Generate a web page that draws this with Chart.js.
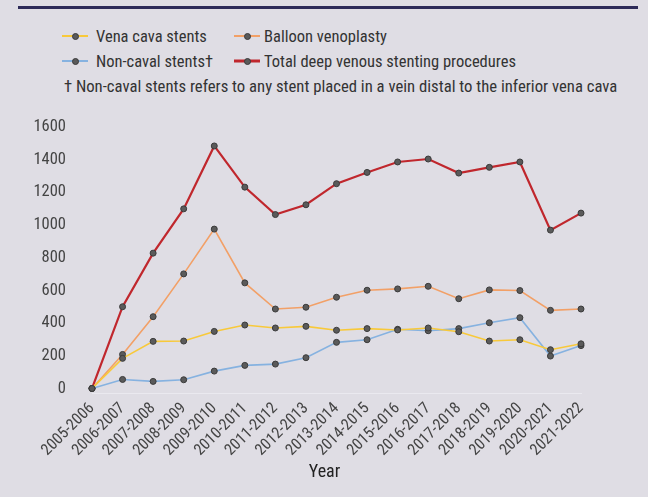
<!DOCTYPE html>
<html>
<head>
<meta charset="utf-8">
<script src="https://cdn.jsdelivr.net/npm/chart.js@4/dist/chart.umd.min.js"></script>
<style>
html,body{margin:0;padding:0;background:#dfdde4;}
#wrap{position:relative;width:648px;height:497px;overflow:hidden;font-family:"Roboto Condensed","Liberation Sans",sans-serif;color:#333;}
#rule{position:absolute;left:18px;top:6px;width:620px;height:3px;background:#2d2a58;}
.item{position:absolute;height:24px;display:flex;align-items:center;font-size:16.5px;white-space:nowrap;}
.mk{position:relative;width:26px;height:24px;flex:none;}
.mk .ln{position:absolute;left:0;right:0;top:50%;transform:translateY(-50%);}
.mk .dot{position:absolute;left:50%;top:50%;width:7px;height:7px;margin:-3.5px 0 0 -3.5px;border-radius:50%;background:#5a5a5a;border:1px solid #3a3a3a;box-sizing:border-box;}
#note{position:absolute;left:64px;top:75px;height:24px;line-height:24px;font-size:16.7px;white-space:nowrap;}
canvas{position:absolute;left:0;top:0;}
</style>
</head>
<body>
<div id="wrap">
  <div id="rule"></div>
  <div id="legend"></div>
  <div id="note"></div>
  <canvas id="c" width="648" height="497"></canvas>
</div>
<script>
const years = ['2005-2006','2006-2007','2007-2008','2008-2009','2009-2010','2010-2011','2011-2012','2012-2013','2013-2014','2014-2015','2015-2016','2016-2017','2017-2018','2018-2019','2019-2020','2020-2021','2021-2022'];
const venaCava = [0,184,288,290,349,388,370,380,356,366,358,370,347,290,298,237,273];
const balloon  = [0,208,439,701,975,646,486,497,558,601,609,625,549,603,599,478,486];
const nonCaval = [0,55,43,53,106,141,149,188,282,298,362,353,366,402,433,198,262];
const total    = [0,500,828,1099,1484,1232,1064,1124,1253,1322,1386,1404,1318,1353,1386,969,1073];
const yTicks = [0,200,400,600,800,1000,1200,1400,1600];
const seriesNames = ['Vena cava stents','Balloon venoplasty','Non-caval stents\u2020','Total deep venous stenting procedures'];
const seriesColors = ['#f8c93a','#f2a067','#86b2e0','#c0272d'];
const lineWidths = [1.6,1.6,1.6,2.2];
const footnote = '\u2020 Non-caval stents refers to any stent placed in a vein distal to the inferior vena cava';
const xTitle = 'Year';

const FONT = '"Roboto Condensed","Liberation Sans",sans-serif';
const seriesData = [venaCava, balloon, nonCaval, total];

const datasets = seriesData.map((d,i)=>({
  label: seriesNames[i],
  data: d,
  borderColor: seriesColors[i],
  backgroundColor: seriesColors[i],
  borderWidth: lineWidths[i],
  pointRadius: 3,
  pointHoverRadius: 3,
  pointBackgroundColor: '#5a5a5a',
  pointBorderColor: '#3a3a3a',
  pointBorderWidth: 1,
  tension: 0,
  fill: false
}));

// shift the x-axis title slightly left, as in the reference
const titleShift = {
  id: 'titleShift',
  afterLayout(chart) {
    const s = chart.scales.x;
    if (s && !s._shiftWrapped) {
      const orig = s.drawTitle.bind(s);
      s.drawTitle = function(area) {
        const l = this.left, r = this.right;
        this.left = l - 24;
        const res = orig(area);
        this.left = l; this.right = r;
        return res;
      };
      s._shiftWrapped = true;
    }
  }
};

const chart = new Chart(document.getElementById('c'), {
  type: 'line',
  data: { labels: years, datasets },
  plugins: [titleShift],
  options: {
    responsive: false,
    animation: false,
    devicePixelRatio: 1,
    layout: { padding: { top: 127, right: 67, left: 0, bottom: 0 } },
    plugins: { legend: { display: false }, tooltip: { enabled: false } },
    scales: {
      x: {
        grid: { display: false, drawTicks: false },
        border: { display: true, color: '#eae9ef', width: 1 },
        ticks: { autoSkip: false, minRotation: 45, maxRotation: 45, color: '#444', padding: 6,
                 font: { family: FONT, size: 16 } },
        title: { display: true, text: xTitle, color: '#222', font: { family: FONT, size: 18 },
                 padding: { top: 0, bottom: 14 } },
        afterFit: s => { s.height = 104; }
      },
      y: {
        min: -28, max: 1600,
        grid: { display: false, drawTicks: false },
        border: { display: false },
        afterBuildTicks: s => { s.ticks = yTicks.map(v => ({ value: v })); },
        ticks: { color: '#444', padding: 26, font: { family: FONT, size: 16.5 },
                 callback: v => String(v) },
        afterFit: s => { s.width = 92; }
      }
    }
  }
});

// HTML legend built from the chart's datasets
const legend = document.getElementById('legend');
const colX = [62, 234];
const colGap = [8, 4];
const rowY = [24, 49];
chart.data.datasets.forEach((ds, i) => {
  const item = document.createElement('div');
  item.className = 'item';
  item.style.left = colX[i % 2] + 'px';
  item.style.top = rowY[Math.floor(i / 2)] + 'px';
  const mk = document.createElement('span');
  mk.className = 'mk';
  mk.style.marginRight = colGap[i % 2] + 'px';
  const ln = document.createElement('span');
  ln.className = 'ln';
  ln.style.background = ds.borderColor;
  ln.style.height = (ds.borderWidth > 2 ? 3 : 2) + 'px';
  const dot = document.createElement('span');
  dot.className = 'dot';
  mk.appendChild(ln); mk.appendChild(dot);
  item.appendChild(mk);
  item.appendChild(document.createTextNode(ds.label));
  legend.appendChild(item);
});
document.getElementById('note').textContent = footnote;
</script>
</body>
</html>
